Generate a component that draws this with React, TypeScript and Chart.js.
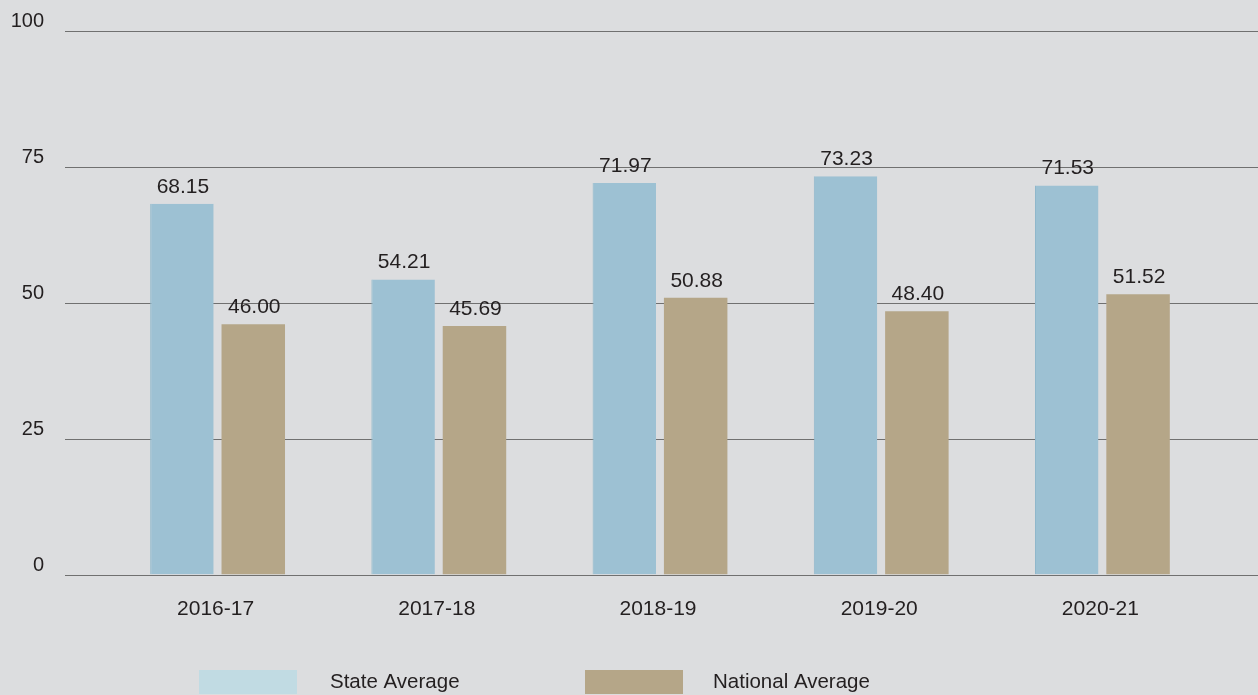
import React, { useEffect, useRef } from "react";
import { Chart, registerables } from "chart.js";

Chart.register(...registerables);

const categories = ["2016-17", "2017-18", "2018-19", "2019-20", "2020-21"];
const stateAverage = [68.15, 54.21, 71.97, 73.23, 71.53];
const nationalAverage = [46.0, 45.69, 50.88, 48.4, 51.52];
const yTicks = [0, 25, 50, 75, 100];
const seriesNames = ["State Average", "National Average"];

const BG = "#dcdddf";
const STATE = "#9dc1d3";
const STATE_LEGEND = "#c1dbe3";
const NATIONAL = "#b5a688";
const TEXT = "#231f20";
const GRID = "#707070";
const FONT = "'Liberation Sans', Arial, sans-serif";

const overlay = {
  id: "overlay",
  beforeDraw(chart: any) {
    const { ctx, width, height } = chart;
    ctx.save();
    ctx.fillStyle = BG;
    ctx.fillRect(0, 0, width, height);
    ctx.restore();
  },
  beforeDatasetsDraw(chart: any) {
    const { ctx, width } = chart;
    const y = chart.scales.y;
    ctx.save();
    ctx.strokeStyle = GRID;
    ctx.lineWidth = 1.2;
    ctx.font = `20px ${FONT}`;
    ctx.fillStyle = TEXT;
    ctx.textAlign = "right";
    ctx.textBaseline = "middle";
    yTicks.forEach((t) => {
      const py = Math.round(y.getPixelForValue(t)) + 0.5;
      ctx.beginPath();
      ctx.moveTo(65, py);
      ctx.lineTo(width, py);
      ctx.stroke();
      ctx.fillText(String(t), 44, py - 10);
    });
    const x = chart.scales.x;
    ctx.textAlign = "center";
    ctx.font = `21px ${FONT}`;
    categories.forEach((c, i) => {
      ctx.fillText(c, x.getPixelForValue(i) - 2, 609);
    });
    ctx.restore();
  },
  afterDatasetsDraw(chart: any) {
    const { ctx } = chart;
    ctx.save();
    ctx.font = `21px ${FONT}`;
    ctx.fillStyle = TEXT;
    ctx.textAlign = "center";
    ctx.textBaseline = "middle";
    chart.data.datasets.forEach((ds: any, di: number) => {
      const meta = chart.getDatasetMeta(di);
      meta.data.forEach((bar: any, i: number) => {
        ctx.fillText(Number(ds.data[i]).toFixed(2), bar.x + 1, bar.y - 17);
      });
    });
    const items = [
      { box: 199, text: 330, color: STATE_LEGEND, label: seriesNames[0] },
      { box: 585, text: 713, color: NATIONAL, label: seriesNames[1] },
    ];
    ctx.textAlign = "left";
    ctx.font = `20.5px ${FONT}`;
    items.forEach((it) => {
      ctx.fillStyle = it.color;
      ctx.fillRect(it.box, 670, 98, 24);
      ctx.fillStyle = TEXT;
      ctx.fillText(it.label, it.text, 682);
    });
    ctx.restore();
  },
};

export default function App() {
  const ref = useRef<HTMLCanvasElement>(null);
  useEffect(() => {
    document.body.style.margin = "0";
    document.body.style.background = BG;
    const chart = new Chart(ref.current!, {
      type: "bar",
      data: {
        labels: categories,
        datasets: [
          {
            label: seriesNames[0],
            data: stateAverage,
            backgroundColor: STATE,
            borderColor: "#8fb7cb",
            borderWidth: { left: 1, top: 0, right: 0, bottom: 0 },
            categoryPercentage: 0.645,
            barPercentage: 0.89,
          },
          {
            label: seriesNames[1],
            data: nationalAverage,
            backgroundColor: NATIONAL,
            categoryPercentage: 0.645,
            barPercentage: 0.89,
          },
        ],
      },
      options: {
        animation: false,
        responsive: false,
        maintainAspectRatio: false,
        layout: { padding: { left: 107, right: 45, top: 30.5, bottom: 120.5 } },
        plugins: { legend: { display: false }, tooltip: { enabled: false } },
        scales: {
          x: { display: false },
          y: { display: false, min: 0, max: 100 },
        },
      },
      plugins: [overlay],
    });
    return () => chart.destroy();
  }, []);
  return (
    <div style={{ width: 1258, height: 695, background: BG }}>
      <canvas ref={ref} width={1258} height={695} style={{ display: "block" }} />
    </div>
  );
}
